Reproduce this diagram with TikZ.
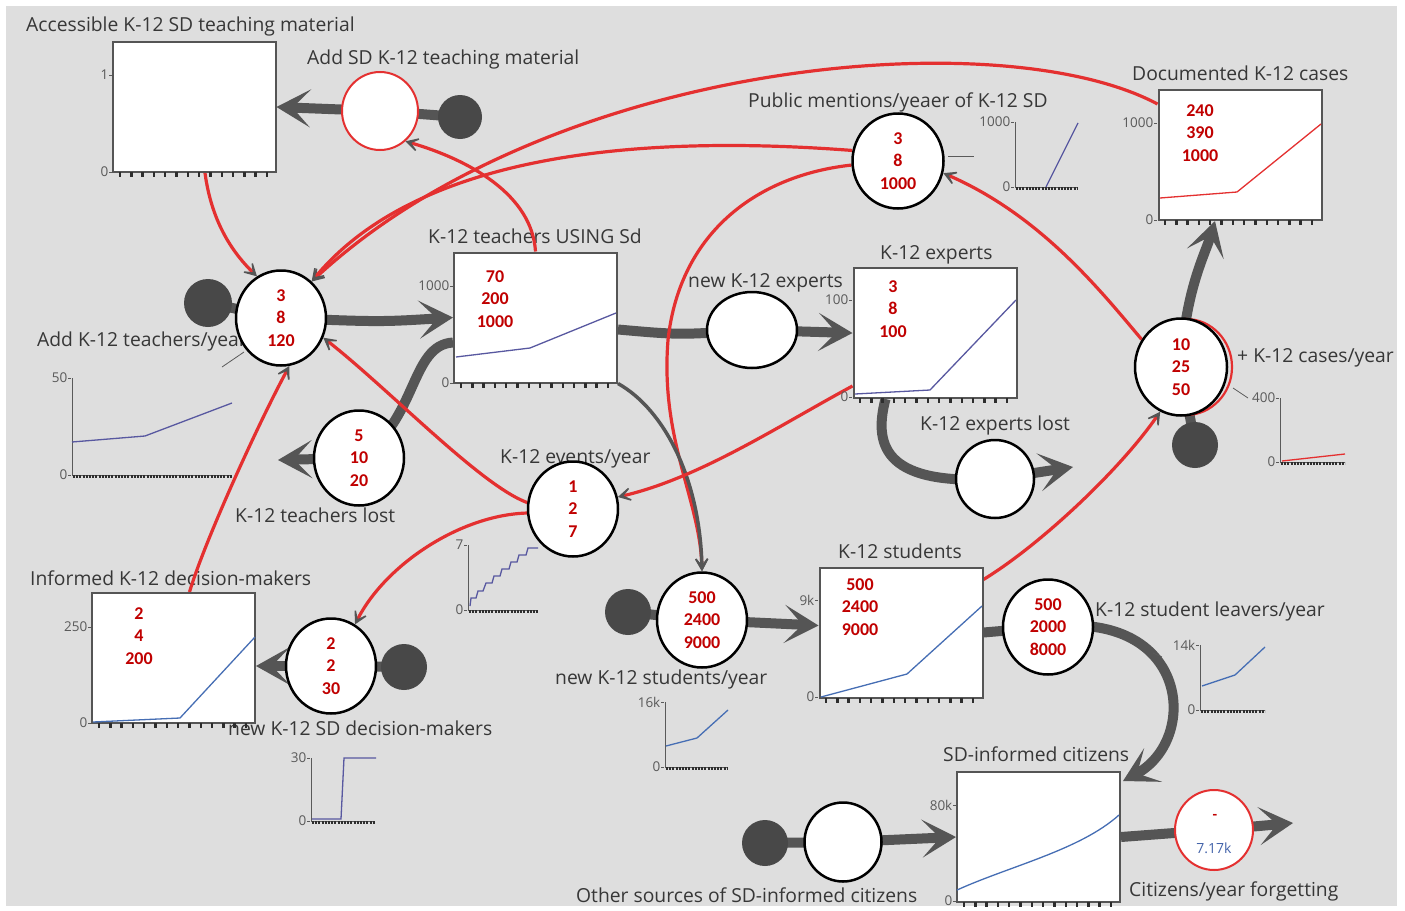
\documentclass[tikz,border=0pt]{standalone}
\usepackage{fontspec}
\setmainfont{Open Sans}
\newfontfamily\numfam{Carlito}
\usetikzlibrary{arrows.meta,shapes.geometric,calc}
\definecolor{bgc}{RGB}{222,222,222}
\definecolor{boxgray}{RGB}{85,85,85}
\definecolor{pipegray}{RGB}{85,85,85}
\definecolor{cloudgray}{RGB}{72,72,72}
\definecolor{linkred}{RGB}{228,48,48}
\definecolor{arrowgray}{RGB}{85,85,85}
\definecolor{numred}{RGB}{192,0,0}
\definecolor{txtgray}{RGB}{55,55,55}
\definecolor{axgray}{RGB}{90,90,90}
\definecolor{tickc}{RGB}{45,45,45}
\definecolor{plotA}{RGB}{88,88,160}
\definecolor{plotB}{RGB}{70,110,180}
\definecolor{valblue}{RGB}{68,100,170}
\newcommand{\myLbl}{\fontsize{19.3}{22}\selectfont}
\newcommand{\myAx}{\fontsize{13.5}{15}\selectfont}
\newcommand{\myNum}{\numfam\bfseries\fontsize{18}{22.5}\selectfont}
\pgfdeclarelayer{back}
\pgfdeclarelayer{labels}
\pgfdeclarelayer{pipes}
\pgfdeclarelayer{links}
\pgfsetlayers{back,labels,pipes,links,main}
\tikzset{
  stockbox/.style={draw=boxgray, line width=2pt, fill=white, minimum width=163pt, minimum height=130pt, inner sep=0pt},
  conv/.style={ellipse, draw=black, line width=2.5pt, fill=white, minimum width=90pt, minimum height=95pt, inner sep=0pt, font=\myNum, text=numred, align=center},
  redconv/.style={conv, draw=linkred, line width=2pt},
  cloudnode/.style={circle, fill=cloudgray, minimum size=46pt, inner sep=0pt},
  pipe/.style={line width=10pt, draw=pipegray},
  pipearrow/.style={pipe, -{Stealth[length=34pt,width=38pt,inset=18pt]}},
  link/.style={line width=3.2pt, draw=linkred, -{Stealth[length=20pt,width=22pt,inset=14pt,color=arrowgray,fill=arrowgray]}},
  glink/.style={line width=3.5pt, draw=pipegray, -{Stealth[length=20pt,width=22pt,inset=14pt,color=arrowgray,fill=arrowgray]}},
  lbl/.style={font=\myLbl, text=txtgray, anchor=base west, inner sep=0pt},
  axl/.style={font=\myAx, text=axgray, anchor=east, inner sep=0.5pt},
  num/.style={font=\myNum, text=numred, align=center, inner sep=0pt},
  thin/.style={draw=axgray, line width=0.8pt},
  plotline/.style={line width=1.3pt},
}
\newcommand{\yax}[4]{\node[axl] (#1) at ({#2-3},#3) {#4}; \draw[thin] ({#2-3},#3) -- (#2,#3);}
\newcommand{\boxticks}[2]{\foreach \k in {0,...,13}{\draw[line width=2.4pt,tickc] ({#1+7+\k*11.3},#2) -- ++(0,5);}}
\newcommand{\minig}[3]{\draw[thin, line width=1pt] (#1,#2) -- (#1,#3);}
\newcommand{\minix}[3]{\draw[thin, line width=1pt] (#1,#2) -- (#3,#2);
  \draw[tickc, line width=3pt, dash pattern=on 2pt off 1.2pt] ({#1+1},{#2+1.5}) -- (#3,{#2+1.5});}
\begin{document}
\begin{tikzpicture}[x=1pt,y=-1pt]
\useasboundingbox (0,0) rectangle (1405,910);
\begin{pgfonlayer}{back}
\fill[white] (0,0) rectangle (1405,910);
\fill[bgc] (6,6) rectangle (1397,906);
\end{pgfonlayer}

% ---------- stocks ----------
\node[stockbox] (acc) at (194,107) {};
\node[stockbox] (tch) at (535.5,317.5) {};
\node[stockbox] (exp) at (935,333) {};
\node[stockbox] (doc) at (1240,155) {};
\node[stockbox] (stu) at (901,632.5) {};
\node[stockbox] (inf) at (173.5,658) {};
\node[stockbox] (cit) at (1038.5,837) {};

% ---------- converters / flows ----------
\node[redconv, minimum width=76pt, minimum height=78pt] (addmat) at (380,111) {};
\node[conv] (addtch) at (281,318) {3\\8\\120};
\node[conv] (tchlost) at (359,458) {5\\10\\20};
\node[conv, minimum width=90pt, minimum height=76pt] (newexp) at (752,330) {};
\node[conv, minimum width=78pt, minimum height=78pt] (explost) at (995,479) {};
\node[conv, minimum width=92pt, minimum height=97pt] (cases) at (1181,367) {10\\25\\50};
\node[conv, minimum width=91pt] (pub) at (898,161) {3\\8\\1000};
\node[conv] (events) at (573,509) {1\\2\\7};
\node[conv] (newstu) at (702,620) {500\\2400\\9000};
\node[conv] (leavers) at (1048,627) {500\\2000\\8000};
\node[conv] (newdm) at (331,666) {2\\2\\30};
\node[conv, minimum width=77pt, minimum height=79pt] (other) at (843,842) {};
\node[redconv, minimum width=78pt, minimum height=80pt] (forget) at (1214,830) {};
\node[font=\numfam\bfseries\fontsize{15}{16}\selectfont, text=numred, inner sep=0pt] (fminus) at (1215,817) {-};
\node[font=\fontsize{14}{16}\selectfont, text=valblue, inner sep=0pt] (fval) at (1214,848) {7.17k};

% clouds
\node[cloudnode, minimum size=44pt] (c1) at (460,117) {};
\node[cloudnode, minimum size=48pt] (c2) at (208,303) {};
\node[cloudnode] (c3) at (1195,445) {};
\node[cloudnode] (c4) at (628,612) {};
\node[cloudnode] (c5) at (404,667) {};
\node[cloudnode] (c6) at (765,843) {};

\coordinate (tlend) at (278,460);
\coordinate (elend) at (1073,467);
\coordinate (fend) at (1293,823);

% ---------- numbers in stocks ----------
\node[num] (tchn) at (495,299) {70\\200\\1000};
\node[num] (expn) at (893,309) {3\\8\\100};
\node[num] (docn) at (1200,133) {240\\390\\1000};
\node[num] (stun) at (860,607) {500\\2400\\9000};
\node[num] (infn) at (139,636) {2\\4\\200};

% ---------- stock axes ----------
\yax{acc1}{112}{75}{1}\yax{acc0}{112}{172}{0}
\yax{tch1}{453}{286}{1000}\yax{tch0}{453}{383}{0}
\yax{exp1}{852}{300}{100}\yax{exp0}{852}{397}{0}
\yax{doc1}{1157}{123}{1000}\yax{doc0}{1157}{220}{0}
\yax{stu1}{818}{600}{9k}\yax{stu0}{818}{697}{0}
\yax{inf1}{91}{627}{250}\yax{inf0}{91}{723}{0}
\yax{cit1}{956}{805}{80k}\yax{cit0}{956}{901}{0}
\boxticks{113}{172}
\boxticks{454}{383}
\boxticks{853}{398}
\boxticks{1158}{220}
\boxticks{819}{698}
\boxticks{92}{723}
\boxticks{957}{902}

% ---------- plots in stocks ----------
\draw[plotA, plotline] (456,357) -- (530,348) -- (616,313);
\draw[plotA, plotline] (855,394) -- (930,390) -- (1016,300);
\draw[linkred, plotline] (1160,198) -- (1237,192) -- (1321,124);
\draw[plotB, plotline] (821,697) -- (907,674) -- (982,606);
\draw[plotB, plotline] (93,722) -- (180,718) -- (255,637);
\draw[plotB, plotline] (957,890) .. controls (1010,866) and (1080,850) .. (1119,815);

% ---------- mini graphs ----------
\minig{72}{378}{475}\minix{72}{475}{232}\yax{m1a}{71}{378}{50}\yax{m1b}{71}{475}{0}
\draw[plotA, plotline] (72,442) -- (145,436) -- (232,403);
\draw[thin] (222,367) -- (244,352);
\minig{1015}{122}{187}\minix{1015}{187}{1078}\yax{m2a}{1014}{122}{1000}\yax{m2b}{1014}{187}{0}
\draw[plotA, plotline] (1046,187) -- (1078,123);
\draw[thin] (948,156) -- (974,156);
\minig{1280}{398}{462}\minix{1280}{462}{1345}\yax{m3a}{1279}{398}{400}\yax{m3b}{1279}{462}{0}
\draw[linkred, plotline] (1282,461) -- (1345,454);
\draw[thin] (1233,388) -- (1248,398);
\minig{468}{545}{610}\minix{468}{610}{538}\yax{m4a}{467}{545}{7}\yax{m4b}{467}{610}{0}
\draw[plotA, plotline] (470,606) -- (471,598) -- (476,598) -- (478,591) -- (483,591) -- (486,583) -- (492,583) -- (494,576) -- (500,576) -- (502,569) -- (509,569) -- (511,562) -- (517,562) -- (519,555) -- (526,555) -- (528,548) -- (538,548);
\minig{665}{702}{767}\minix{665}{767}{728}\yax{m5a}{664}{702}{16k}\yax{m5b}{664}{767}{0}
\draw[plotB, plotline] (666,746) -- (697,738) -- (728,710);
\minig{1200}{645}{710}\minix{1200}{710}{1265}\yax{m6a}{1199}{645}{14k}\yax{m6b}{1199}{710}{0}
\draw[plotB, plotline] (1202,686) -- (1235,675) -- (1265,647);
\draw[thin] (1153,653) -- (1162,657);
\minig{311}{758}{821}\minix{311}{821}{375}\yax{m7a}{310}{758}{30}\yax{m7b}{310}{821}{0}
\draw[plotA, plotline] (312,819) -- (341,819) -- (344,758) -- (376,758);

% ---------- labels ----------
\begin{pgfonlayer}{labels}
\node[lbl] (l1) at (26,31) {Accessible K-12 SD teaching material};
\node[lbl] (l2) at (307,64) {Add SD K-12 teaching material};
\node[lbl] (l3) at (428,243) {K-12 teachers USING Sd};
\node[lbl] (l4) at (688,287) {new K-12 experts};
\node[lbl] (l5) at (880,259) {K-12 experts};
\node[lbl] (l6) at (748,107) {Public mentions/yeaer of K-12 SD};
\node[lbl] (l7) at (1132,80) {Documented K-12 cases};
\node[lbl] (l8) at (1237,362) {+ K-12 cases/year};
\node[lbl] (l9) at (37,346) {Add K-12 teachers/year};
\node[lbl] (l10) at (235,522) {K-12 teachers lost};
\node[lbl] (l11) at (500,463) {K-12 events/year};
\node[lbl] (l12) at (920,430) {K-12 experts lost};
\node[lbl] (l13) at (30,585) {Informed K-12 decision-makers};
\node[lbl] (l14) at (228,735) {new K-12 SD decision-makers};
\node[lbl] (l15) at (838,558) {K-12 students};
\node[lbl] (l16) at (1095,616) {K-12 student leavers/year};
\node[lbl] (l17) at (555,684) {new K-12 students/year};
\node[lbl] (l18) at (943,761) {SD-informed citizens};
\node[lbl] (l19) at (576,902) {Other sources of SD-informed citizens};
\node[lbl] (l20) at (1129,896) {Citizens/year forgetting};
\end{pgfonlayer}

% ---------- pipes ----------
\begin{pgfonlayer}{pipes}
\draw[pipe] (c1.center) -- (addmat.center);
\draw[pipearrow] (addmat.center) -- (acc.east);
\draw[pipe] (c2.center) -- (addtch.center);
\draw[pipearrow] (addtch.center) .. controls (380,322) .. (tch.west);
\draw[pipe] ($(tch.west)+(0,25)$) .. controls (410,345) and (418,420) .. (tchlost.center);
\draw[pipearrow] (tchlost.center) -- (tlend);
\draw[pipe] ($(tch.east)+(0,12)$) .. controls (680,335) .. (newexp.center);
\draw[pipearrow] (newexp.center) -- (exp.west);
\draw[pipe] ($(exp.south west)+(33,0)$) .. controls (872,450) and (890,485) .. (explost.center);
\draw[pipearrow] (explost.center) -- (elend);
\draw[pipe] (c3.center) -- (cases.center);
\draw[pipearrow] (cases.center) .. controls (1185,290) and (1205,255) .. ($(doc.south)+(-25,0)$);
\draw[pipe] (c4.center) -- (newstu.center);
\draw[pipearrow] (newstu.center) -- ($(stu.west)+(0,-7)$);
\draw[pipe] (stu.east) -- (leavers.center);
\draw[pipearrow] (leavers.center) .. controls (1190,610) and (1200,740) .. ($(cit.north east)+(2,10)$);
\draw[pipe] (c5.center) -- (newdm.center);
\draw[pipearrow] (newdm.center) -- ($(inf.east)+(0,8)$);
\draw[pipe] (c6.center) -- (other.center);
\draw[pipearrow] (other.center) -- (cit.west);
\draw[pipe] (cit.east) -- (forget.center);
\draw[pipearrow] (forget.center) -- (fend);
\end{pgfonlayer}

% ---------- information links ----------
\begin{pgfonlayer}{links}
\draw[linkred, line width=2.2pt] ($(cases.center)+(5,0)$) ellipse [x radius=46pt, y radius=48pt];
\draw[link] ($(acc.south)+(11,0)$) .. controls (212,225) and (235,255) .. (addtch.120);
\draw[link] ($(doc.north west)+(0,15)$) .. controls (1000,20) and (550,60) .. (addtch.50);
\draw[link] (pub.167) .. controls (650,135) and (420,150) .. (addtch.50);
\draw[link] (tch.north) .. controls (532,195) and (470,160) .. (addmat.-50);
\draw[link] (pub.185) .. controls (760,175) and (680,230) .. (668,340) .. controls (660,440) and (700,500) .. (newstu.north);
\draw[glink] (tch.south east) .. controls (665,410) and (700,480) .. (newstu.north);
\draw[link] ($(exp.south west)+(0,-13)$) .. controls (780,425) and (700,478) .. (events.15);
\draw[link] (events.172) .. controls (480,485) and (390,390) .. (addtch.-25);
\draw[link] (events.185) .. controls (460,515) and (385,565) .. (newdm.60);
\draw[link] ($(inf.north)+(16,0)$) .. controls (205,540) and (260,420) .. (addtch.-80);
\draw[link] ($(stu.north east)+(0,13)$) .. controls (1040,545) and (1120,470) .. (cases.-115);
\draw[link] (cases.145) .. controls (1100,290) and (1040,215) .. (pub.-15);
\end{pgfonlayer}
\end{tikzpicture}
\end{document}
